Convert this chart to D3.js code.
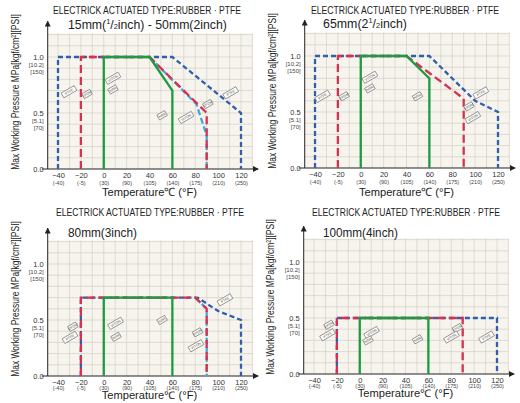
<!DOCTYPE html>
<html>
<head>
<meta charset="utf-8">
<script src="https://cdn.jsdelivr.net/npm/d3@7"></script>
<style>
  body { margin: 0; background: #fff; }
  svg { display: block; }
</style>
</head>
<body>
<div class="chart"></div>
<script>
// shared axis ticks
const xTicks = [-40, -20, 0, 20, 40, 60, 80, 100, 120];
const xTicksF = ["(-40)", "(-5)", "(30)", "(90)", "(105)", "(140)", "(175)", "(210)", "(250)"];
const yTicks = [0.0, 0.5, 1.0];
const yTicksSub = [[], ["[5.1]", "[70]"], ["[10.2]", "[150]"]];

const titleText = "ELECTRICK ACTUATED TYPE:RUBBER · PTFE";
const xTitle = "Temperature℃ (°F)";
const yTitle = "Max Working Pressure MPa[kgf/cm²][PSI]";

// subtitle pieces: n normal, s superscript, b small
const p1Sub = [["15mm(", "n"], ["1", "s"], ["/", "n"], ["2", "b"], ["inch) - 50mm(2inch)", "n"]];
const p2Sub = [["65mm(2", "n"], ["1", "s"], ["/", "n"], ["2", "b"], ["inch)", "n"]];
const p3Sub = [["80mm(3inch)", "n"]];
const p4Sub = [["100mm(4inch)", "n"]];

// panel 1 : 15mm - 50mm
const p1Blue  = [[-40, 0], [-40, 1], [60, 1], [120, 0.5], [120, 0]];
const p1Red   = [[-20, 0], [-20, 1], [40, 1], [90, 0.5], [90, 0]];
const p1Cyan  = [[40, 1], [81, 0.58], [90, 0.3], [90, 0]];
const p1Green = [[0, 0], [0, 1], [40, 1], [60, 0.7], [60, 0]];
const p1Labels = [[-30.4, 0.69, "PTFE", 1], [-14.6, 0.67, "EPDM", 0], [8, 0.81, "VITON", 1], [8, 0.71, "NBR", 0],
                  [51, 0.48, "NBR", 0], [72, 0.46, "VITON", 1], [91, 0.58, "EPDM", 0], [111, 0.68, "PTFE", 1]];

// panel 2 : 65mm
const p2Blue  = [[-40, 0], [-40, 1], [60, 1], [100, 0.6], [120, 0.5], [120, 0]];
const p2Red   = [[-20, 0], [-20, 1], [40, 1], [90, 0.62], [90, 0]];
const p2Cyan  = [];
const p2Green = [[0, 0], [0, 1], [40, 1], [60, 0.8], [60, 0]];
const p2Labels = [[-33.4, 0.64, "PTFE", 1], [-14.6, 0.64, "EPDM", 0], [8, 0.81, "VITON", 1], [8, 0.71, "NBR", 0],
                  [49.6, 0.64, "NBR", 0], [94.6, 0.55, "EPDM", 0], [98, 0.45, "VITON", 1], [105, 0.67, "PTFE", 1]];

// panel 3 : 80mm
const p3Blue  = [[-20, 0], [-20, 0.7], [82, 0.7], [100, 0.58], [120, 0.5], [120, 0]];
const p3Red   = [[-20, 0], [-20, 0.7], [80, 0.7], [90, 0.6], [90, 0]];
const p3Cyan  = [[80, 0.7], [90, 0.6], [90, 0]];
const p3Green = [[0, 0], [0, 0.7], [60, 0.7], [60, 0]];
const p3Labels = [[-27, 0.44, "EPDM", 0], [-29.5, 0.345, "PTFE", 1], [10.3, 0.47, "VITON", 1], [10.7, 0.35, "NBR", 0],
                  [51, 0.5, "NBR", 0], [82, 0.39, "EPDM", 0], [80.6, 0.27, "VITON", 1], [106, 0.68, "PTFE", 1]];

// panel 4 : 100mm
const p4Blue  = [[-20, 0], [-20, 0.5], [120, 0.5], [120, 0]];
const p4Red   = [[-20, 0], [-20, 0.5], [90, 0.5], [90, 0]];
const p4Cyan  = [];
const p4Green = [[0, 0], [0, 0.5], [60, 0.5], [60, 0]];
const p4Labels = [[-26.9, 0.44, "EPDM", 0], [-28.2, 0.35, "PTFE", 1], [10.3, 0.37, "VITON", 1], [7.2, 0.3, "NBR", 0],
                  [50.5, 0.31, "NBR", 0], [85.4, 0.41, "EPDM", 0], [80.2, 0.33, "VITON", 1], [110.8, 0.33, "PTFE", 1]];

const panels = [
  {dx: 0,   dy: 0,   x0: 58, y0: 169, ty: 10, sx: 68, sy: 24, tx: 147, lx: 15, sub: p1Sub, sw: 159, xo: 27, fo: 12.5, xs: 11.5,
   blue: p1Blue, red: p1Red, cyan: p1Cyan, green: p1Green, labels: p1Labels},
  {dx: 260, dy: 0,   x0: 55, y0: 168, ty: 10, sx: 63, sy: 23, tx: 145, lx: 12, sub: p2Sub, sw: 84, xo: 28, fo: 12.5, xs: 11.5,
   blue: p2Blue, red: p2Red, cyan: p2Cyan, green: p2Green, labels: p2Labels},
  {dx: 0,   dy: 200, x0: 58, y0: 176, ty: 12, sx: 68, sy: 32, tx: 150, lx: 15, sub: p3Sub, sw: 69, xo: 23, fo: 10.5, xs: 10.5,
   blue: p3Blue, red: p3Red, cyan: p3Cyan, green: p3Green, labels: p3Labels},
  {dx: 260, dy: 200, x0: 54, y0: 174, ty: 12, sx: 63, sy: 32, tx: 146, lx: 10, sub: p4Sub, sw: 75, xo: 23, fo: 10.5, xs: 10.5,
   blue: p4Blue, red: p4Red, cyan: p4Cyan, green: p4Green, labels: p4Labels}
];

const width = 520, height = 403;
const svg = d3.select('.chart')
              .append('svg')
              .attr('width', width)
              .attr('height', height)
              .style('font-family', '"Liberation Sans", Arial, sans-serif');

svg.append('defs').append('marker')
   .attr('id', 'arrow')
   .attr('viewBox', '0 0 10 10')
   .attr('refX', 9).attr('refY', 5)
   .attr('markerWidth', 6).attr('markerHeight', 6)
   .attr('markerUnits', 'userSpaceOnUse')
   .attr('orient', 'auto')
   .append('path')
   .attr('d', 'M0,0 L10,5 L0,10 z')
   .attr('fill', '#222');

const line = d3.line();

// squeeze a text horizontally so it spans `w` pixels (the print uses a narrow face)
function fit(t, w, x, y, rot) {
  const len = t.node().getComputedTextLength();
  const k = Math.min(1.2, w / len);
  t.attr('transform', `translate(${x},${y}) rotate(${rot || 0}) scale(${k},1)`);
}

panels.forEach(p => {
  const g = svg.append('g').attr('transform', `translate(${p.dx},${p.dy})`);

  const x = d3.scaleLinear().domain([-40, 120]).range([p.x0, p.x0 + 183]);
  const y = d3.scaleLinear().domain([0, 1]).range([p.y0, p.y0 - 112]);

  // grid paper
  g.append('rect')
   .attr('x', x(-49)).attr('y', y(1.21))
   .attr('width', x(130) - x(-49)).attr('height', y(0) - y(1.21))
   .attr('fill', '#f6f4ec');

  g.append('g').selectAll('line')
   .data(d3.range(-40, 131, 10))
   .enter().append('line')
   .attr('x1', d => x(d)).attr('x2', d => x(d))
   .attr('y1', y(0)).attr('y2', y(1.21))
   .attr('stroke', '#d2d0c8').attr('stroke-width', 0.7);

  g.append('g').selectAll('line')
   .data(d3.range(1, 13).map(d => d / 10))
   .enter().append('line')
   .attr('x1', x(-49)).attr('x2', x(130))
   .attr('y1', d => y(d)).attr('y2', d => y(d))
   .attr('stroke', '#d2d0c8').attr('stroke-width', 0.7);

  // axes lines with arrows
  g.append('line')
   .attr('x1', x(-49)).attr('x2', x(-49))
   .attr('y1', y(0)).attr('y2', y(1.32))
   .attr('stroke', '#222').attr('stroke-width', 1)
   .attr('marker-end', 'url(#arrow)');
  g.append('line')
   .attr('x1', x(-49) - 6).attr('x2', x(135))
   .attr('y1', y(0)).attr('y2', y(0))
   .attr('stroke', '#222').attr('stroke-width', 1)
   .attr('marker-end', 'url(#arrow)');

  // x tick labels
  const xAxis = d3.axisBottom(x).tickValues(xTicks).tickSize(0).tickPadding(3.5);
  const xg = g.append('g')
              .attr('transform', `translate(0,${y(0)})`)
              .call(xAxis);
  xg.select('.domain').remove();
  xg.selectAll('text')
    .attr('font-size', 7.5).attr('fill', '#333')
    .attr('font-family', '"Liberation Sans", Arial, sans-serif');
  xg.selectAll('.tick').append('text')
    .attr('y', p.fo).attr('dy', '0.71em')
    .attr('text-anchor', 'middle')
    .attr('font-size', 5.5).attr('fill', '#444')
    .text((d, i) => xTicksF[i]);

  // y tick labels
  const yg = g.append('g');
  yTicks.forEach((v, i) => {
    yg.append('text')
      .attr('x', x(-49) - 4).attr('y', y(v) + 2.5)
      .attr('text-anchor', 'end').attr('font-size', 7.5).attr('fill', '#333')
      .text(d3.format('.1f')(v));
    yTicksSub[i].forEach((s, j) => {
      yg.append('text')
        .attr('x', x(-49) - 4).attr('y', y(v) + 9.5 + j * 7)
        .attr('text-anchor', 'end').attr('font-size', 6).attr('fill', '#444')
        .text(s);
    });
  });

  // series
  const drawSeries = (data, color, dash, w) => {
    if (!data.length) return;
    g.append('path')
     .attr('d', line(data.map(d => [x(d[0]), y(d[1])])))
     .attr('fill', 'none')
     .attr('stroke', color)
     .attr('stroke-width', w)
     .attr('stroke-dasharray', dash)
     .attr('stroke-linejoin', 'miter');
  };
  drawSeries(p.blue, '#2f5fae', '5,3', 2.3);
  drawSeries(p.cyan, '#39a9e0', '6,3', 2.3);
  drawSeries(p.red, '#d8304f', '8,4', 2.3);
  drawSeries(p.green, '#1e9a40', null, 2.3);

  // material tags
  const tags = g.append('g');
  p.labels.forEach(l => {
    const w = l[3] ? 15 : 9, h = 5.5;
    const t = tags.append('g')
      .attr('transform', `translate(${x(l[0])},${y(l[1])}) rotate(-30)`);
    t.append('rect')
     .attr('x', -w / 2).attr('y', -h / 2).attr('width', w).attr('height', h)
     .attr('fill', '#fbfbf8').attr('stroke', '#666').attr('stroke-width', 0.6);
    t.append('text')
     .attr('y', 1.3).attr('text-anchor', 'middle')
     .attr('font-size', 3.6).attr('fill', '#555')
     .text(l[2]);
  });

  // titles
  const tt = g.append('text')
   .attr('text-anchor', 'middle')
   .attr('font-size', 11).attr('fill', '#222')
   .text(titleText);
  fit(tt, 188, p.tx, p.ty + 4);

  const st = g.append('text')
   .attr('font-size', 12.5).attr('fill', '#222');
  p.sub.forEach(s => {
    const ts = st.append('tspan').text(s[0]);
    if (s[1] === 's') ts.attr('font-size', 7.5).attr('baseline-shift', '4');
    if (s[1] === 'b') ts.attr('font-size', 7.5);
  });
  fit(st, p.sw, p.sx, p.sy + 4.5);

  const xt = g.append('text')
   .attr('text-anchor', 'middle')
   .attr('font-size', p.xs).attr('fill', '#222')
   .text(xTitle);
  fit(xt, 95, x(40), y(0) + p.xo);

  const yt = g.append('text')
   .attr('text-anchor', 'middle')
   .attr('font-size', 10.5).attr('fill', '#222')
   .text(yTitle);
  fit(yt, 156, p.lx + 4, y(0) - 77, -90);
});
</script>
</body>
</html>
